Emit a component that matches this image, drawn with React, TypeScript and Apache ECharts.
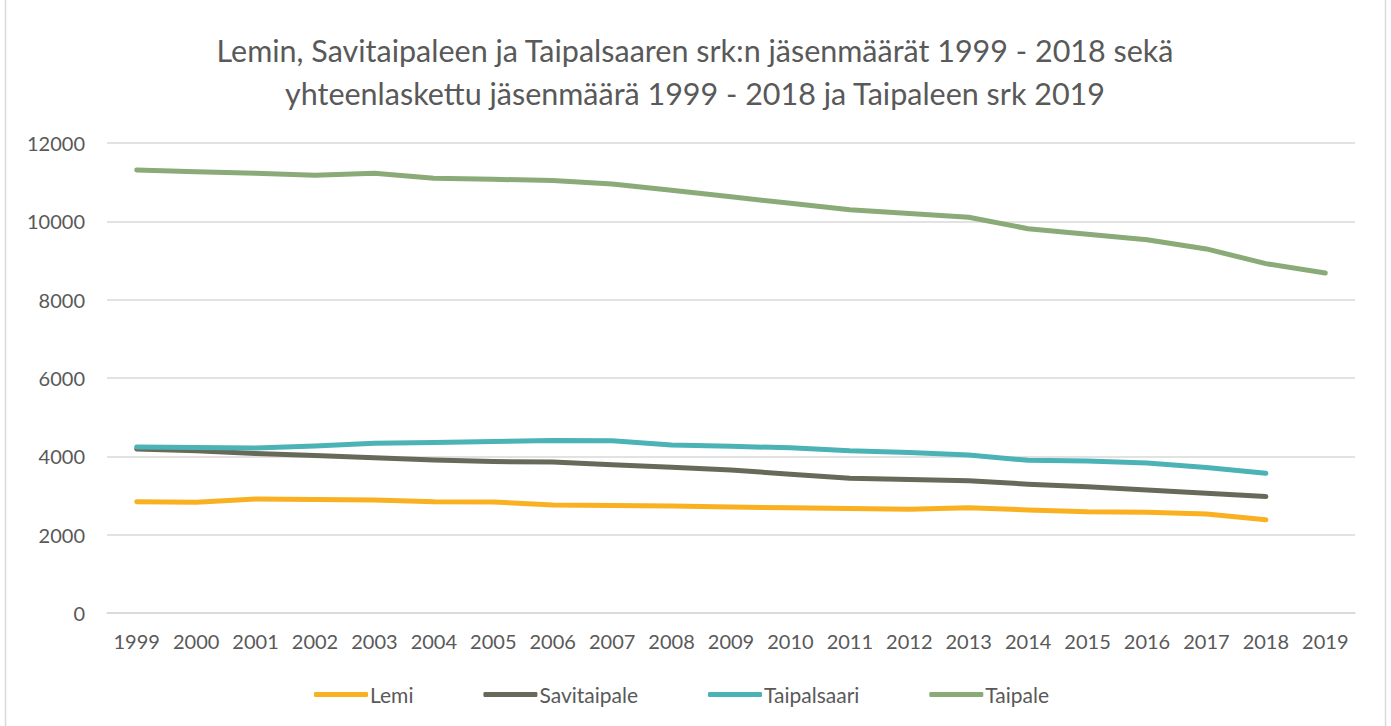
import React, { useEffect, useRef } from "react";
import * as echarts from "echarts";

const years = ["1999","2000","2001","2002","2003","2004","2005","2006","2007","2008","2009","2010","2011","2012","2013","2014","2015","2016","2017","2018","2019"];
const lemi = [2840, 2830, 2910, 2900, 2885, 2840, 2835, 2755, 2745, 2735, 2705, 2685, 2667, 2650, 2690, 2630, 2582, 2572, 2530, 2380, null];
const savitaipale = [4190, 4140, 4070, 4020, 3966, 3905, 3865, 3857, 3785, 3720, 3650, 3544, 3440, 3410, 3375, 3290, 3224, 3139, 3055, 2972, null];
const taipalsaari = [4240, 4225, 4215, 4262, 4335, 4352, 4378, 4405, 4397, 4290, 4255, 4219, 4140, 4101, 4034, 3899, 3882, 3831, 3713, 3570, null];
const taipale = [11310, 11265, 11225, 11175, 11230, 11100, 11072, 11045, 10953, 10792, 10625, 10460, 10295, 10200, 10105, 9810, 9668, 9530, 9295, 8920, 8680];
const yTicks = { min: 0, max: 12000, interval: 2000 };
const titleLines = [
  "Lemin, Savitaipaleen ja Taipalsaaren srk:n jäsenmäärät 1999 - 2018 sekä",
  "yhteenlaskettu jäsenmäärä 1999 - 2018 ja Taipaleen srk 2019",
];

const FONT = "Lato, 'Open Sans', sans-serif";
const TXT = "#595959";

export default function App() {
  const ref = useRef<HTMLDivElement>(null);
  useEffect(() => {
    if (!ref.current) return;
    const chart = echarts.init(ref.current, undefined, { renderer: "svg" });
    const mk = (name: string, data: (number | null)[], color: string) => ({
      name,
      type: "line",
      data,
      symbol: "none",
      showSymbol: false,
      smooth: false,
      lineStyle: { color, width: 5, cap: "round", join: "round" },
      itemStyle: { color },
    });
    chart.setOption({
      animation: false,
      backgroundColor: "#ffffff",
      textStyle: { fontFamily: FONT },
      grid: { left: 107, right: 36, top: 143, bottom: 113, containLabel: false },
      xAxis: {
        type: "category",
        data: years,
        boundaryGap: true,
        axisLine: { show: true, lineStyle: { color: "#d9d9d9", width: 1.5 } },
        axisTick: { show: false },
        axisLabel: { color: TXT, fontSize: 20, fontFamily: FONT, margin: 18, interval: 0 },
      },
      yAxis: {
        type: "value",
        min: yTicks.min,
        max: yTicks.max,
        interval: yTicks.interval,
        axisLine: { show: false },
        axisTick: { show: false },
        splitLine: { lineStyle: { color: "#d9d9d9", width: 1.5 } },
        axisLabel: { color: TXT, fontSize: 20, fontFamily: FONT, margin: 22, formatter: (v: number) => String(v) },
      },
      legend: {
        left: 309,
        top: 679,
        itemGap: 70,
        itemWidth: 54,
        itemHeight: 5,
        icon: "roundRect",
        textStyle: { color: TXT, fontSize: 21, fontFamily: FONT, padding: [0, 0, 0, -3] },
        data: ["Lemi", "Savitaipale", "Taipalsaari", "Taipale"],
      },
      graphic: [
        {
          type: "rect",
          shape: { x: 5.5, y: -5, width: 1380, height: 740 },
          style: { fill: "none", stroke: "#d9d9d9", lineWidth: 1.5 },
          silent: true,
        },
        {
          type: "text",
          x: 695,
          y: 50,
          style: { text: titleLines[0], fill: TXT, font: `30.5px ${FONT}`, textAlign: "center", textVerticalAlign: "middle" },
        },
        {
          type: "text",
          x: 695,
          y: 93,
          style: { text: titleLines[1], fill: TXT, font: `30.5px ${FONT}`, textAlign: "center", textVerticalAlign: "middle" },
        },
      ],
      series: [
        mk("Lemi", lemi, "#F9B122"),
        mk("Savitaipale", savitaipale, "#676A58"),
        mk("Taipalsaari", taipalsaari, "#4BB3B5"),
        mk("Taipale", taipale, "#8AAA78"),
      ],
    });
    return () => chart.dispose();
  }, []);
  return (
    <div
      ref={ref}
      style={{ position: "fixed", left: 0, top: 0, width: 1391, height: 726 }}
    />
  );
}
